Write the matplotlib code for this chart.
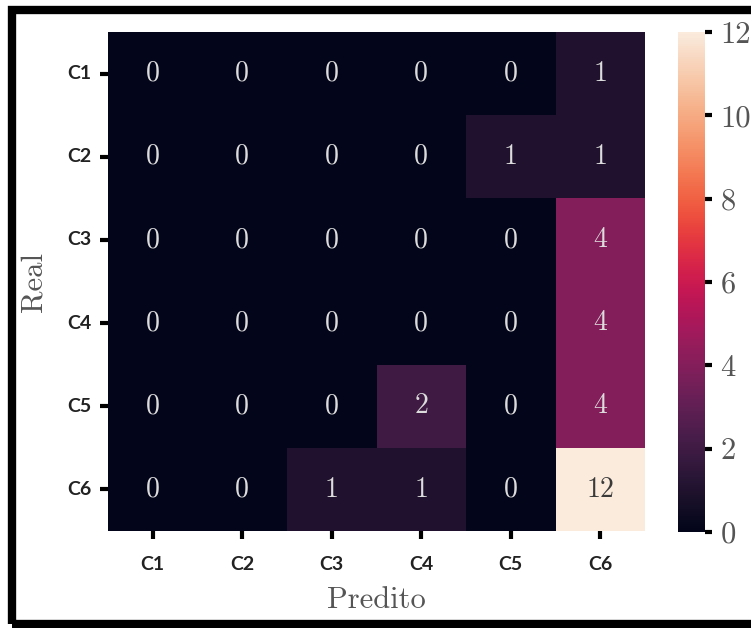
import matplotlib
matplotlib.use("Agg")
import matplotlib.pyplot as plt
import numpy as np
import seaborn as sns
from matplotlib.patches import Rectangle

# confusion matrix (rows = real, cols = predicted)
classes = ["C1", "C2", "C3", "C4", "C5", "C6"]
row_c1 = [0, 0, 0, 0, 0, 1]
row_c2 = [0, 0, 0, 0, 1, 1]
row_c3 = [0, 0, 0, 0, 0, 4]
row_c4 = [0, 0, 0, 0, 0, 4]
row_c5 = [0, 0, 0, 2, 0, 4]
row_c6 = [0, 0, 1, 1, 0, 12]
cbar_ticks = [0, 2, 4, 6, 8, 10, 12]

cm = np.array([row_c1, row_c2, row_c3, row_c4, row_c5, row_c6])

W, H = 751, 628
fig = plt.figure(figsize=(W / 100, H / 100), dpi=100)
ax = fig.add_axes([108 / W, 1 - 531 / H, 537 / W, 499 / H])
cax = fig.add_axes([678 / W, 1 - 532 / H, 27 / W, 500 / H])

serif = "cmr10"

sns.heatmap(cm, ax=ax, cbar_ax=cax, cmap="rocket", vmin=0, vmax=12,
            annot=True, fmt="d",
            annot_kws={"fontsize": 20, "family": serif},
            xticklabels=classes, yticklabels=classes)

# annotation colours a bit softer
for t in ax.texts:
    if t.get_text() != "12":
        t.set_color("#dcdcdc")
    else:
        t.set_color("#3a3a3a")

ax.tick_params(axis="y", length=6, width=3, color="black", pad=6)
ax.tick_params(axis="x", length=6, width=3, color="black", pad=12)
for lab in ax.get_xticklabels() + ax.get_yticklabels():
    lab.set_rotation(0)
    lab.set_fontfamily("Lato")
    lab.set_fontweight("bold")
    lab.set_fontsize(14)
    lab.set_color("#222222")

ax.set_xlabel("Predito", family=serif, fontsize=22, color="#555555", labelpad=10)
ax.set_ylabel("Real", family=serif, fontsize=22, color="#555555", labelpad=14)

cax.set_yticks(cbar_ticks)
cax.tick_params(length=5, width=3, color="black", pad=6)
for lab in cax.get_yticklabels():
    lab.set_fontfamily(serif)
    lab.set_fontsize(22)
    lab.set_color("#555555")

# black frame round the whole figure
frame = Rectangle((11.5 / W, 4 / H), 1.0, 1 - 13.5 / H, transform=fig.transFigure,
                  fill=False, edgecolor="black", linewidth=6, clip_on=False)
fig.patches.append(frame)

fig.savefig("out.png", dpi=100)
